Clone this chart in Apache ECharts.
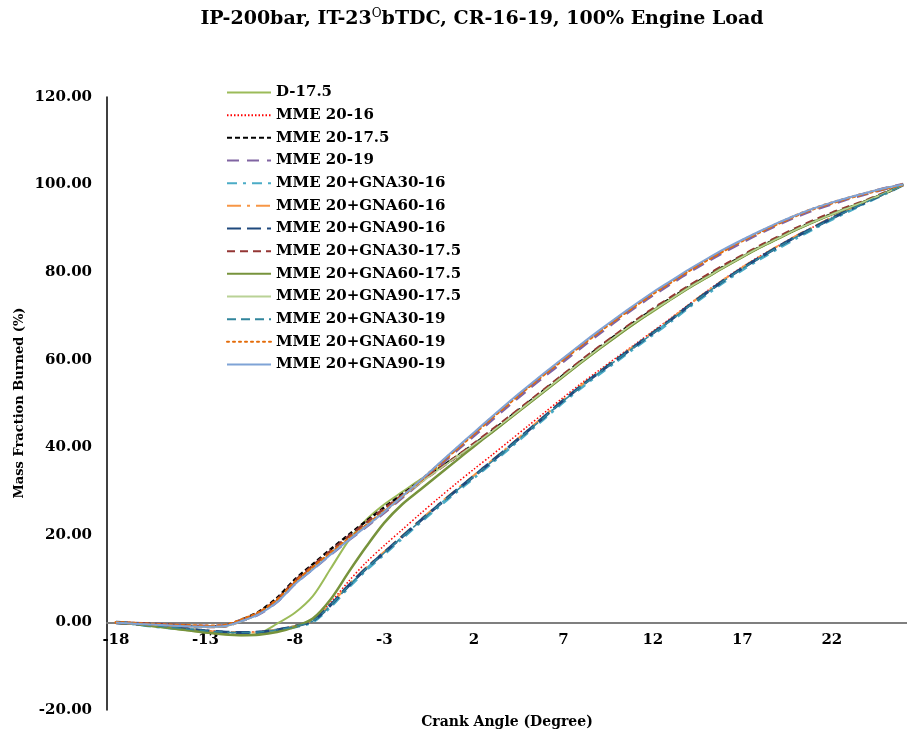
<!DOCTYPE html>
<html>
<head>
<meta charset="utf-8">
<script src="https://cdn.jsdelivr.net/npm/echarts@6/dist/echarts.min.js"></script>
<style>html,body{margin:0;padding:0;background:#fff}#c{width:907px;height:734px}</style>
</head>
<body>
<div id="c"></div>
<script>
// Crank angle (degree)
const xDeg = [-18,-17,-16,-15,-14,-13,-12,-11,-10,-9,-8,-7,-6,-5,-4,-3,-2,-1,0,1,2,3,4,5,6,7,8,9,10,11,12,13,14,15,16,17,18,19,20,21,22,23,24,25,26];
const xTickLabels = [-18,-13,-8,-3,2,7,12,17,22];
const yTicks = [-20,0,20,40,60,80,100,120];

const seriesNames = ['D-17.5','MME 20-16','MME 20-17.5','MME 20-19','MME 20+GNA30-16','MME 20+GNA60-16','MME 20+GNA90-16','MME 20+GNA30-17.5','MME 20+GNA60-17.5','MME 20+GNA90-17.5','MME 20+GNA30-19','MME 20+GNA60-19','MME 20+GNA90-19'];

// Mass fraction burned (%)
const d175 = [0,-0.3,-0.8,-1.3,-1.8,-2.3,-2.7,-2.9,-2.5,-0.3,2.2,6.0,12.3,18.7,23.5,27.0,29.8,32.6,35.2,37.8,40.5,43.4,46.5,49.7,52.9,56.1,59.3,62.4,65.4,68.3,71.0,73.7,76.3,78.7,81.1,83.4,85.6,87.6,89.6,91.5,93.2,94.8,96.4,98.1,100];
const mme16 = [0,-0.3,-0.6,-1.0,-1.4,-1.8,-2.1,-2.2,-2.1,-1.6,-0.8,0.6,4.6,9.4,13.8,17.6,21.2,24.8,28.3,31.7,35.0,38.2,41.5,44.8,48.1,51.4,54.6,57.6,60.6,63.5,66.5,69.5,72.6,75.6,78.5,81.2,83.7,86.0,88.3,90.4,92.5,94.4,96.3,98.1,100];
const mme175 = [0,-0.2,-0.4,-0.6,-0.8,-0.9,-0.8,0.6,2.5,5.6,9.8,13.3,16.7,20.0,23.2,26.3,29.3,32.2,35.0,37.8,40.7,43.7,46.9,50.1,53.3,56.5,59.7,62.8,65.8,68.7,71.4,74.0,76.6,79.0,81.4,83.6,85.8,87.8,89.8,91.6,93.3,94.8,96.4,98.1,100];
const mme19 = [0,-0.2,-0.4,-0.6,-0.8,-0.9,-0.8,0.4,2.0,4.8,8.9,12.3,15.6,18.9,22.0,25.2,28.6,32.0,35.6,39.2,42.7,46.3,49.8,53.2,56.5,59.7,62.9,66.0,69.1,72.0,74.8,77.4,80.0,82.4,84.7,86.9,89.0,90.9,92.7,94.3,95.6,96.9,98.0,99.1,100];
const gna30_16 = [0,-0.3,-0.8,-1.2,-1.6,-2.0,-2.3,-2.4,-2.3,-1.8,-1.0,0.2,3.7,8.1,12.1,15.7,19.3,22.9,26.4,29.8,33.1,36.5,39.9,43.4,46.9,50.4,53.7,56.8,59.8,62.8,65.8,68.8,72.0,75.0,77.9,80.6,83.1,85.5,87.8,90.0,92.1,94.1,96.1,98.0,100];
const gna60_16 = [0,-0.3,-0.7,-1.1,-1.5,-1.9,-2.2,-2.3,-2.2,-1.6,-0.8,0.6,4.2,8.6,12.6,16.2,19.8,23.4,26.9,30.3,33.6,37.0,40.4,43.9,47.4,50.9,54.2,57.3,60.3,63.3,66.3,69.3,72.5,75.5,78.4,81.1,83.6,86.0,88.3,90.4,92.5,94.5,96.3,98.1,100];
const gna90_16 = [0,-0.3,-0.7,-1.1,-1.5,-1.9,-2.2,-2.3,-2.2,-1.7,-0.9,0.4,4.0,8.4,12.4,16.0,19.6,23.2,26.7,30.1,33.4,36.8,40.2,43.7,47.2,50.7,54.0,57.1,60.1,63.1,66.1,69.1,72.3,75.3,78.2,80.9,83.4,85.8,88.1,90.2,92.3,94.3,96.2,98.1,100];
const gna30_175 = [0,-0.2,-0.4,-0.6,-0.8,-1.0,-0.9,0.4,2.2,5.2,9.4,12.9,16.3,19.6,22.8,26.0,29.0,32.0,34.9,37.8,40.8,43.9,47.0,50.2,53.4,56.6,59.8,62.9,65.9,68.8,71.6,74.2,76.8,79.2,81.6,83.8,86.0,88.0,90.0,91.8,93.5,95.0,96.5,98.2,100];
const gna60_175 = [0,-0.3,-0.8,-1.3,-1.8,-2.3,-2.7,-2.9,-2.8,-2.2,-1.0,0.9,5.3,11.5,17.4,22.8,27.0,30.3,33.6,36.9,40.2,43.4,46.6,49.8,53.0,56.2,59.4,62.5,65.5,68.4,71.2,73.8,76.4,78.8,81.2,83.5,85.7,87.7,89.7,91.5,93.2,94.8,96.4,98.1,100];
const gna90_175 = [0,-0.3,-0.5,-0.7,-0.9,-1.1,-1.0,0.2,1.9,4.8,8.8,12.4,15.8,19.1,22.3,25.5,28.7,31.8,34.8,37.7,40.6,43.6,46.7,49.9,53.1,56.3,59.5,62.6,65.6,68.5,71.2,73.8,76.4,78.8,81.2,83.5,85.7,87.7,89.7,91.5,93.2,94.8,96.4,98.1,100];
const gna30_19 = [0,-0.3,-0.7,-1.1,-1.5,-1.9,-2.2,-2.3,-2.2,-1.7,-0.9,0.3,3.9,8.3,12.3,15.9,19.5,23.1,26.6,30.0,33.3,36.7,40.1,43.6,47.1,50.6,53.9,57.0,60.0,63.0,66.0,69.0,72.2,75.2,78.1,80.8,83.3,85.7,88.0,90.1,92.2,94.2,96.1,98.0,100];
const gna60_19 = [0,-0.2,-0.4,-0.6,-0.7,-0.8,-0.7,0.6,2.3,5.1,9.2,12.6,15.9,19.1,22.2,25.4,28.8,32.3,35.9,39.5,43.1,46.7,50.2,53.6,56.9,60.1,63.3,66.4,69.4,72.3,75.1,77.7,80.3,82.7,85.0,87.2,89.2,91.1,92.9,94.5,95.8,97.0,98.1,99.1,100];
const gna90_19 = [0,-0.3,-0.5,-0.7,-0.9,-1.0,-0.9,0.3,1.9,4.6,8.7,12.1,15.5,18.8,22.0,25.3,28.8,32.4,36.1,39.8,43.4,47.0,50.5,53.9,57.2,60.4,63.6,66.7,69.7,72.6,75.4,78.0,80.6,83.0,85.3,87.4,89.4,91.3,93.0,94.6,95.9,97.1,98.2,99.2,100];

const seriesValues = [d175, mme16, mme175, mme19, gna30_16, gna60_16, gna90_16, gna30_175, gna60_175, gna90_175, gna30_19, gna60_19, gna90_19];

const styles = [
  {color:'#9BBB59', width:2, type:'solid'},
  {color:'#FF0000', width:1.5, type:[1.5,2]},
  {color:'#000000', width:2.5, type:[5,3]},
  {color:'#8064A2', width:3.5, type:[12,8]},
  {color:'#4BACC6', width:3.5, type:[10,6,3,6]},
  {color:'#F79646', width:2, type:[14,6,3,6]},
  {color:'#1F497D', width:3, type:[14,6]},
  {color:'#943634', width:3, type:[8,5]},
  {color:'#77933C', width:2.5, type:'solid'},
  {color:'#B9D296', width:1.5, type:'solid'},
  {color:'#31859C', width:1.5, type:[9,5]},
  {color:'#E46C0A', width:3, type:[2,4], cap:'round'},
  {color:'#7FA3D6', width:2, type:'solid'}
];

const FONT = 'DejaVu Serif';
const chart = echarts.init(document.getElementById('c'), null, {renderer:'canvas'});

const series = seriesNames.map((name, i) => ({
  name: name,
  type: 'line',
  smooth: 0.3,
  symbol: 'none',
  showSymbol: false,
  data: xDeg.map((x, j) => [x, seriesValues[i][j]]),
  lineStyle: {color: styles[i].color, width: styles[i].width, type: styles[i].type, cap: styles[i].cap || 'butt'},
  itemStyle: {color: styles[i].color},
  emphasis: {disabled: true},
  animation: false
}));

chart.setOption({
  animation: false,
  backgroundColor: '#ffffff',
  grid: {left: 107, right: 0, top: 97, bottom: 24, containLabel: false},
  legend: {
    orient: 'vertical',
    left: 221, top: 80,
    itemWidth: 44, itemHeight: 14, itemGap: 7.67,
    itemStyle: {opacity: 0},
    textStyle: {fontFamily: FONT, fontWeight: 'bold', fontSize: 15, color: '#000', lineHeight: 14},
    data: seriesNames
  },
  xAxis: {
    type: 'value', min: -18.5, max: 26.2,
    axisLine: {show: true, onZero: true, lineStyle: {color: '#7f7f7f', width: 2}},
    axisTick: {show: false},
    splitLine: {show: false},
    axisLabel: {customValues: xTickLabels, margin: -77, fontFamily: FONT, fontWeight: 'bold', fontSize: 15, color: '#000'}
  },
  yAxis: {
    type: 'value', min: yTicks[0], max: yTicks[yTicks.length-1], interval: 20,
    axisLine: {show: true, onZero: false, lineStyle: {color: '#000', width: 1.5}},
    axisTick: {show: false},
    splitLine: {show: false},
    axisLabel: {margin: 15, fontFamily: FONT, fontWeight: 'bold', fontSize: 15, color: '#000', formatter: v => v.toFixed(2)}
  },
  graphic: [
    {type: 'text', x: 482, y: 19, style: {
      text: '{a|IP-200bar, IT-23}{s|O}{a|bTDC, CR-16-19, 100% Engine Load}',
      align: 'center', verticalAlign: 'middle',
      rich: {
        a: {fontFamily: FONT, fontWeight: 'bold', fontSize: 19, fill: '#000', color: '#000'},
        s: {fontFamily: FONT, fontWeight: 'normal', fontSize: 12, fill: '#000', color: '#000', padding: [0,0,10,0]}
      }
    }},
    {type: 'text', x: 507, y: 722, style: {
      text: 'Crank Angle (Degree)', align: 'center', verticalAlign: 'middle',
      fontFamily: FONT, fontWeight: 'bold', fontSize: 14, fill: '#000'
    }},
    {type: 'text', x: 20, y: 403, rotation: Math.PI/2, style: {
      text: 'Mass Fraction Burned (%)', align: 'center', verticalAlign: 'middle',
      fontFamily: FONT, fontWeight: 'bold', fontSize: 13, fill: '#000'
    }}
  ],
  series: series
});
</script>
</body>
</html>
